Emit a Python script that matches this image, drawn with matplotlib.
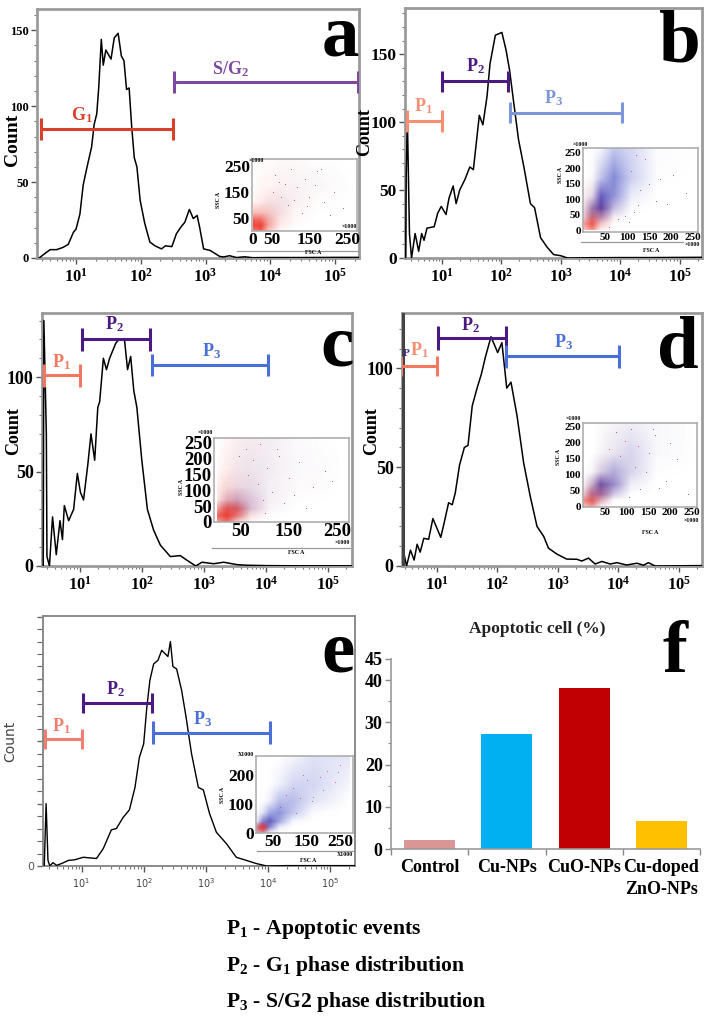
import matplotlib
matplotlib.use('Agg')
import matplotlib.pyplot as plt
from matplotlib.colors import LinearSegmentedColormap, PowerNorm
from matplotlib.ticker import FixedLocator, NullFormatter
import numpy as np

W, H = 713, 1019
SERIF = ['Liberation Serif', 'DejaVu Serif']
plt.rcParams['font.family'] = SERIF
plt.rcParams['mathtext.fontset'] = 'custom'
plt.rcParams['mathtext.rm'] = 'Liberation Serif:bold'
plt.rcParams['mathtext.bf'] = 'Liberation Serif:bold'
plt.rcParams['mathtext.default'] = 'bf'

# histogram traces: log10(FSC) and count
a_log = [.43, .52, .60, .70, .80, .88, .96, 1.0, 1.06, 1.11, 1.17, 1.24, 1.28, 1.32, 1.35, 1.39, 1.42, 1.46, 1.54, 1.59,
         1.65, 1.70, 1.74, 1.78, 1.82, 1.86, 1.90, 1.94, 1.99, 2.06, 2.14, 2.22, 2.32, 2.38, 2.48, 2.55, 2.63, 2.68,
         2.75, 2.81, 2.87, 2.91, 2.97, 3.07, 3.22, 3.28, 3.37, 3.48, 3.6, 3.73, 4.0, 4.5, 5.0, 5.37]
a_count = [0, 3, 5.5, 5.5, 7, 9, 17, 19, 29, 48, 60, 73, 88, 95, 112, 144, 127, 137, 131, 145,
           148, 133, 130, 111, 112, 86, 66, 60, 38, 23, 10.5, 8, 6, 8, 7.5, 16, 21, 23.5,
           32, 26, 28, 20, 6, 5, 1, .7, 1.5, .3, .8, .2, .3, .3, .4, .4]
b_log = [.39, .40, .42, .455, .49, .55, .61, .66, .70, .75, .87, .93, .99, 1.07, 1.12, 1.19, 1.24, 1.30, 1.39, 1.47,
         1.53, 1.63, 1.69, 1.76, 1.81, 1.90, 2.01, 2.08, 2.14, 2.21, 2.29, 2.38, 2.49, 2.56, 2.66, 2.77, 2.88, 3.0,
         3.11, 3.5, 4.0, 4.5, 5.37]
b_count = [0, 60, 103, 18, 0, 18, 5, 18, 13, 22, 23, 33, 38, 32, 44, 53, 40, 50, 58, 67,
           65, 105, 98, 119, 143, 164, 166, 153, 138, 114, 87, 67, 40, 37, 15, 8, 2.5, 1.7,
           0, .2, .3, .3, .5]
c_log = [.41, .42, .46, .47, .51, .56, .62, .68, .72, .75, .82, .90, .96, 1.01, 1.06, 1.13, 1.18, 1.24, 1.29, 1.32,
         1.38, 1.43, 1.48, 1.58, 1.63, 1.72, 1.77, 1.82, 1.87, 1.92, 2.0, 2.09, 2.19, 2.30, 2.46, 2.62, 2.73, 2.87,
         2.97, 3.16, 3.32, 3.54, 3.7, 4.0, 4.5, 5.39]
c_count = [0, 130, 70, 5, 0, 26, 6, 24, 14, 32, 24, 30, 49, 39, 35, 54, 70, 56, 84, 87,
           110, 104, 110, 118, 120, 120, 104, 111, 93, 84, 56, 30, 19, 11, 5, 5.5, 3, 0,
           2, 1.2, 2, .7, .4, .2, .1, .1]
d_log = [.45, .505, .57, .63, .68, .73, .79, .87, .94, 1.07, 1.12, 1.2, 1.26, 1.31, 1.38, 1.46, 1.52, 1.59, 1.67, 1.74,
         1.81, 1.90, 2.01, 2.08, 2.16, 2.23, 2.33, 2.44, 2.55, 2.66, 2.77, 2.85, 2.99, 3.15, 3.32, 3.40, 3.51, 3.62,
         3.73, 3.87, 3.98, 4.14, 4.31, 4.42, 4.5, 4.61, 5.385]
d_count = [8, 0, 8, 3, 11, 7, 14, 13.5, 24, 14.5, 21, 32, 31, 37, 51, 60, 61, 81, 90, 97,
           106, 116, 108, 113, 90, 93, 76, 52, 35, 20, 15, 9, 6, 3.5, 3.4, 2.5, 4, 1,
           2.3, 1, 1.7, .5, 1.4, .4, 1.7, 0, .2]
e_log = [.40, .43, .46, .49, .54, .6, .68, .79, .89, 1.03, 1.24, 1.35, 1.48, 1.56, 1.67, 1.77, 1.86, 1.93, 2.0, 2.05,
         2.10, 2.16, 2.23, 2.29, 2.35, 2.39, 2.43, 2.47, 2.53, 2.61, 2.68, 2.77, 2.88, 2.96, 3.06, 3.17, 3.33, 3.49,
         3.65, 3.81, 3.98, 4.3, 5.40]
e_count = [0, 50, 4.5, 0, 2.7, .5, 2, 4.5, 5, 7, 6, 14, 29, 30, 39, 45, 63, 87, 98, 127,
           149, 162, 165, 173, 170, 168, 180, 160, 158, 141, 120, 90, 63, 61, 42, 27, 18, 7,
           4.5, 2, 0, .3, .3]

# gates: (log start, log end, count, half cap height in counts)
a_gates = [(.46, 2.5, 85, 7), (2.52, 5.35, 116, 7)]
b_gates = [(.41, 1.0, 101, 8), (1.01, 2.12, 130, 8), (2.15, 4.03, 107, 8)]
c_gates = [(.42, 1.01, 101, 6), (1.03, 2.13, 120, 6), (2.16, 4.04, 106.5, 6)]
d_gates = [(.42, 1.01, 101, 5), (1.03, 2.14, 115.5, 6), (2.15, 4.02, 106, 6)]
e_gates = [(.41, 1.01, 101.6, 8), (1.02, 2.13, 131, 8), (2.15, 4.03, 107, 9)]

# inset density read by eye on a coarse grid (rows go up in SSC, columns along FSC)
grid_nodes = [0, 20, 40, 70, 110, 170, 280]
a_red = [[.7, .85, .3, .05, 0, 0, 0], [.95, 1, .5, .12, .02, 0, 0], [.85, .8, .45, .15, .04, 0, 0],
         [.35, .35, .3, .15, .05, .01, 0], [.06, .12, .15, .12, .07, .02, 0], [.01, .05, .06, .07, .05, .03, 0],
         [0, .01, .02, .03, .03, .01, 0]]
a_blue = [[0, 0, 0, 0, 0, 0, 0], [0, .05, 0, 0, 0, 0, 0], [0, .05, .05, 0, 0, 0, 0], [0, .02, .05, .05, 0, 0, 0],
          [0, 0, .03, .05, .03, 0, 0], [0, 0, 0, .02, .03, .02, 0], [0, 0, 0, 0, 0, 0, 0]]
b_red = [[.3, .6, .1, 0, 0, 0, 0], [.5, .9, .3, .02, 0, 0, 0], [.2, .6, .35, .05, 0, 0, 0],
         [.15, .25, .25, .08, 0, 0, 0], [.08, .1, .08, .03, 0, 0, 0], [0, .02, .02, 0, 0, 0, 0], [0, 0, 0, 0, 0, 0, 0]]
b_blue = [[0, 0, 0, 0, 0, 0, 0], [0, .1, .05, 0, 0, 0, 0], [.05, .55, .45, .05, 0, 0, 0],
          [.02, .6, .95, .3, .02, 0, 0], [0, .15, .8, .55, .1, 0, 0], [0, .02, .3, .6, .25, .01, 0],
          [0, 0, .02, .25, .2, .02, 0]]
c_red = [[.5, .75, .3, .03, 0, 0, 0], [.8, 1, .7, .15, .02, 0, 0], [.5, .85, .75, .2, .03, 0, 0],
         [.15, .35, .3, .15, .04, .01, 0], [.1, .2, .15, .1, .04, .02, 0], [.03, .1, .1, .08, .05, .02, 0],
         [0, .04, .06, .06, .05, .01, 0]]
c_blue = [[0, .05, 0, 0, 0, 0, 0], [.05, .3, .2, .03, 0, 0, 0], [.05, .4, .5, .2, .03, 0, 0],
          [0, .15, .3, .2, .05, 0, 0], [0, .03, .1, .12, .05, .01, 0], [0, 0, .05, .08, .06, .02, 0],
          [0, 0, .02, .05, .05, .01, 0]]
d_red = [[.3, .5, .05, 0, 0, 0, 0], [.6, .8, .35, .03, 0, 0, 0], [.25, .5, .4, .08, 0, 0, 0],
         [.05, .2, .25, .12, .02, 0, 0], [0, .03, .1, .08, .04, 0, 0], [0, 0, .03, .05, .04, .01, 0],
         [0, 0, .01, .02, .02, .01, 0]]
d_blue = [[0, 0, 0, 0, 0, 0, 0], [.02, .35, .2, 0, 0, 0, 0], [0, .6, .7, .25, .01, 0, 0],
          [0, .3, .85, .55, .08, 0, 0], [0, .03, .2, .4, .2, .01, 0], [0, 0, .04, .1, .2, .03, 0],
          [0, 0, 0, .03, .05, .03, 0]]
e_red = [[.4, .5, .02, 0, 0, 0, 0], [.5, 1, .1, 0, 0, 0, 0], [0, .1, .05, 0, 0, 0, 0], [0, 0, 0, 0, 0, 0, 0],
         [0, 0, 0, 0, 0, 0, 0], [0, 0, 0, 0, 0, 0, 0], [0, 0, 0, 0, 0, 0, 0]]
e_blue = [[.1, .2, .05, 0, 0, 0, 0], [.3, .95, .6, .1, 0, 0, 0], [.05, .6, .8, .45, .05, 0, 0],
          [0, .15, .45, .55, .3, .02, 0], [0, .01, .1, .35, .35, .15, 0], [0, 0, .01, .08, .22, .22, .05],
          [0, 0, 0, 0, .03, .15, .15]]

# a few stray events per inset (FSC, SSC)
a_x = [60, 85, 102, 118, 140, 150, 170, 190, 215, 240, 75, 95, 130, 165, 205, 55, 110, 145, 180, 70]
a_y = [215, 180, 240, 170, 200, 130, 230, 110, 150, 90, 130, 100, 70, 175, 60, 150, 120, 95, 240, 190]
b_x = [110, 130, 150, 175, 205, 235, 125, 165, 95, 115, 140, 190, 80, 105, 120, 60]
b_y = [190, 130, 150, 165, 180, 120, 80, 95, 45, 60, 230, 85, 35, 25, 245, 10]
c_x = [60, 75, 90, 105, 130, 150, 170, 200, 225, 85, 115, 140, 185, 45, 65, 100, 125, 160, 240, 95]
c_y = [230, 195, 245, 170, 210, 140, 190, 110, 160, 120, 95, 60, 45, 210, 150, 30, 230, 85, 130, 70]
d_x = [75, 95, 110, 125, 150, 165, 190, 215, 240, 60, 85, 130, 145, 175, 105, 200, 120, 160]
d_y = [235, 205, 245, 190, 170, 225, 80, 150, 40, 180, 160, 55, 110, 60, 30, 200, 125, 245]
e_x = [90, 110, 130, 150, 170, 190, 210, 235, 250, 70, 120, 165, 200, 245, 140]
e_y = [130, 155, 120, 185, 125, 195, 215, 175, 235, 90, 70, 110, 150, 210, 200]

# bar panel
bar_names = ['Control', 'Cu-NPs', 'CuO-NPs', 'Cu-doped\nZnO-NPs']
bar_values = [2.05, 27.3, 38.2, 6.7]
bar_colors = ['#d99694', '#00b0f0', '#c00000', '#ffc000']


def px_axes(fig, left, top, right, bottom):
    return fig.add_axes([left / W, 1 - bottom / H, (right - left) / W, (bottom - top) / H])


def px_text(fig, x, y, s, **kw):
    return fig.text(x / W, 1 - y / H, s, **kw)


def histogram(fig, box, log_x, counts, gates, gate_colors, y_top, y_ticks, y_size, xlim, lw=1.1,
              frame='#9a9a9a', frame_lw=2.0):
    ax = px_axes(fig, *box)
    ax.set_xscale('log')
    ax.plot(10 ** np.array(log_x), counts, color='black', lw=lw, zorder=3)
    ax.set_xlim(10 ** xlim[0], 10 ** xlim[1])
    ax.set_ylim(0, y_top)
    ax.set_xticks([10 ** n for n in range(1, 6)])
    ax.set_xticklabels(['$10^{%d}$' % n for n in range(1, 6)], fontsize=12)
    ax.set_yticks(y_ticks)
    ax.set_yticklabels([str(t) for t in y_ticks], fontsize=y_size, fontweight='bold')
    ax.yaxis.set_minor_locator(FixedLocator(np.arange(0, y_top, 10)))
    ax.tick_params(which='major', length=4, width=1, color='#555555', pad=2)
    ax.tick_params(which='minor', length=2.5, width=.8, color='#777777')
    ax.tick_params(axis='x', pad=3)
    ax.xaxis.set_minor_formatter(NullFormatter())
    for sp in ax.spines.values():
        sp.set_color(frame)
        sp.set_linewidth(frame_lw)
    for (g, col) in zip(gates, gate_colors):
        start, end, level, cap = g
        ax.plot([10 ** start, 10 ** end], [level, level], color=col, lw=2.2, zorder=4, solid_capstyle='butt')
        for edge in (start, end):
            ax.plot([10 ** edge, 10 ** edge], [level - cap, level + cap], color=col, lw=2.2, zorder=4,
                    solid_capstyle='butt')
    return ax


def gate_label(ax, log_x, y, name, sub, color, size=13):
    ax.text(10 ** log_x, y, '%s$_{%s}$' % (name, sub), color=color, fontsize=size, fontweight='bold',
            ha='center', va='center', zorder=5)


def fine_density(grid, fine):
    # spread the coarse grid out so it can be shown as a soft wash
    nodes = np.array(grid_nodes, dtype=float)
    grid = np.array(grid, dtype=float)
    rows = np.array([np.interp(fine, nodes, r) for r in grid])
    return np.array([np.interp(fine, nodes, rows[:, j]) for j in range(len(fine))]).T


def inset(fig, box, x_ticks, x_px, y_ticks, y_px, red, blue, xs, ys, size, notes, dot=.5):
    # x_px and y_px give two calibration pairs: (value, pixel)
    left, top, right, bottom = box
    xscale = (x_px[1][0] - x_px[0][0]) / (x_px[1][1] - x_px[0][1])
    yscale = (y_px[1][0] - y_px[0][0]) / (y_px[0][1] - y_px[1][1])
    xlim = (x_px[0][0] + (left - x_px[0][1]) * xscale, x_px[0][0] + (right - x_px[0][1]) * xscale)
    ylim = (y_px[0][0] - (bottom - y_px[0][1]) * yscale, y_px[0][0] + (y_px[0][1] - top) * yscale)
    ax = px_axes(fig, *box)
    ax.patch.set_alpha(0)
    fine = np.linspace(0, 280, 141)
    blue_map = LinearSegmentedColormap.from_list('b', [(.22, .28, .78, 0), (.18, .2, .72, 1)])
    red_map = LinearSegmentedColormap.from_list('r', [(.94, .3, .25, 0), (.94, .25, .2, 1)])
    norm = PowerNorm(1.0, vmin=0, vmax=1)
    ax.imshow(fine_density(blue, fine), cmap=blue_map, norm=norm, extent=(0, 280, 0, 280), origin='lower',
              aspect='auto', interpolation='bilinear', zorder=1)
    ax.imshow(fine_density(red, fine), cmap=red_map, norm=norm, extent=(0, 280, 0, 280), origin='lower',
              aspect='auto', interpolation='bilinear', zorder=2)
    ax.scatter(xs, ys, s=dot, color='#a03a70', alpha=.7, linewidths=0, zorder=3)
    ax.set_xlim(*xlim)
    ax.set_ylim(*ylim)
    ax.set_xticks(x_ticks)
    ax.set_yticks(y_ticks)
    ax.set_xticklabels([str(t) for t in x_ticks], fontsize=size, fontweight='bold')
    ax.set_yticklabels([str(t) for t in y_ticks], fontsize=size, fontweight='bold')
    ax.tick_params(length=0, pad=1.5)
    ax.tick_params(axis='x', pad=1)
    for sp in ax.spines.values():
        sp.set_color('#a8a8a8')
        sp.set_linewidth(1.1)
    for (x, y, s, rot) in notes:
        px_text(fig, x, y, s, fontsize=4.2, fontweight='bold', rotation=rot, ha='center', va='center')
    return ax


fig = plt.figure(figsize=(W / 100, H / 100), dpi=100, facecolor='white')

p_colors = ['#f58f73', '#4a1a80', '#7b97d9']
p_colors_deep = ['#f4785f', '#4a1a80', '#4a6fd8']

# panel a
ax = histogram(fig, (37, 9, 359, 258), a_log, a_count, a_gates, ['#d9402b', '#7b4aa0'], 164, [0, 50, 100, 150], 9,
               (.397, 5.37))
gate_label(ax, 1.09, 94, 'G', '1', '#d9402b')
gate_label(ax, 3.38, 124.6, 'S/G', '2', '#7b4aa0')
px_text(fig, 12, 140, 'Count', fontsize=14, fontweight='bold', rotation=90, ha='center', va='center')
inset(fig, (252, 159, 357, 231), [0, 50, 150, 250], ((0, 252.5), (250, 347)), [50, 150, 250], ((50, 218), (250, 166)),
      a_red, a_blue, a_x, a_y, 12.5, [(256, 160, '×1000', 0), (349, 227, '×1000', 0), (218, 200, 'SSC A', 90),
                                     (313, 253, 'FSC A', 0)])
fig.add_artist(plt.Line2D([237 / W, 359 / W], [1 - 251 / H] * 2, color='#999999', lw=.9))

# panel b
ax = histogram(fig, (405, 8, 702, 258), b_log, b_count, b_gates, p_colors, 184, [0, 50, 100, 150], 12.5, (.38, 5.376))
gate_label(ax, .69, 112, 'P', '1', p_colors[0])
gate_label(ax, 1.56, 141, 'P', '2', p_colors[1])
gate_label(ax, 2.88, 117.6, 'P', '3', p_colors[2])
px_text(fig, 365, 132, 'Count', fontsize=13, fontweight='bold', rotation=90, ha='center', va='center')
inset(fig, (583, 148, 698, 232), [50, 100, 150, 200, 250], ((50, 605), (250, 693)), [0, 50, 100, 150, 200, 250],
      ((0, 230), (250, 153)), b_red, b_blue, b_x, b_y, 8,
      [(580, 144, '×1000', 0), (692, 244, '×1000', 0), (561, 175, 'SSC A', 90), (651, 250, 'FSC A', 0)])
fig.add_artist(plt.Line2D([581 / W, 683 / W], [1 - 242 / H] * 2, color='#999999', lw=.9))

# panel c
ax = histogram(fig, (42, 313, 352, 566), c_log, c_count, c_gates, p_colors_deep, 134, [0, 50, 100], 13, (.39, 5.39))
gate_label(ax, .70, 108, 'P', '1', p_colors_deep[0])
gate_label(ax, 1.56, 128, 'P', '2', p_colors_deep[1])
gate_label(ax, 3.13, 113.6, 'P', '3', p_colors_deep[2])
px_text(fig, 14, 431, 'Count', fontsize=13, fontweight='bold', rotation=90, ha='center', va='center')
inset(fig, (214, 438, 349, 522), [50, 150, 250], ((50, 241), (250, 337)), [0, 50, 100, 150, 200, 250],
      ((0, 524), (250, 443)), c_red, c_blue, c_x, c_y, 13.5,
      [(205, 433, '×1000', 0), (342, 543, '×1000', 0), (181, 487, 'SSC A', 90), (296, 552, 'FSC A', 0)])
fig.add_artist(plt.Line2D([212 / W, 350 / W], [1 - 548 / H] * 2, color='#999999', lw=.9))

# panel d
ax = histogram(fig, (402, 313, 702, 566), d_log, d_count, d_gates, p_colors_deep, 128, [0, 50, 100], 13, (.43, 5.385))
ax.axvline(10 ** .445, color='#444444', lw=2.2, zorder=3)
gate_label(ax, .71, 109, 'P', '1', p_colors[0])
gate_label(ax, 1.56, 122, 'P', '2', p_colors_deep[1])
gate_label(ax, 3.10, 113, 'P', '3', p_colors_deep[2])
ax.text(10 ** .44, 107.5, 'P', color='#3a2a80', fontsize=8, fontweight='bold', ha='left', va='center', zorder=5)
px_text(fig, 372, 431, 'Count', fontsize=13, fontweight='bold', rotation=90, ha='center', va='center')
inset(fig, (583, 423, 697, 507), [50, 100, 150, 200, 250], ((50, 605), (250, 692)), [0, 50, 100, 150, 200, 250],
      ((0, 508), (250, 427)), d_red, d_blue, d_x, d_y, 8,
      [(573, 419, '×1000', 0), (691, 521, '×1000', 0), (558, 457, 'SSC A', 90), (650, 533, 'FSC A', 0)])

# panel e
ax = histogram(fig, (43, 616, 355, 866), e_log, e_count, e_gates, ['#f07f70', '#4a1a80', '#4a6fd8'], 200.5, [0, 50, 100, 150, 200],
               8, (.38, 5.40), lw=1.0, frame='#8a8a8a', frame_lw=1.4)
ax.set_yticklabels(['0', '', '', '', ''], fontsize=8, family='DejaVu Sans', fontweight='normal', color='#555555')
ax.set_xticklabels(['$\\mathregular{10^{%d}}$' % n for n in range(1, 6)], fontsize=7, family='DejaVu Sans', color='#444444')
ax.tick_params(axis='y', which='both', length=4, direction='out', color='#666666')
gate_label(ax, .67, 112, 'P', '1', '#f07f70')
gate_label(ax, 1.54, 141.7, 'P', '2', p_colors_deep[1])
gate_label(ax, 2.94, 118, 'P', '3', p_colors_deep[2])
px_text(fig, 10, 741, 'Count', fontsize=10, family='DejaVu Sans', color='#444444', rotation=90, ha='center', va='center')
inset(fig, (256, 756, 353, 833), [50, 150, 250], ((50, 273), (250, 340)), [0, 100, 200], ((0, 836), (200, 776)),
      e_red, e_blue, e_x, e_y, 12.5, [(246, 754, 'X1000', 0), (345, 855, 'X1000', 0), (222, 795, 'SSC A', 90),
                                      (308, 860, 'FSC A', 0)], dot=.4)
fig.add_artist(plt.Line2D([257 / W, 353 / W], [1 - 851 / H] * 2, color='#999999', lw=.9))

# panel f
ax = px_axes(fig, 391, 659, 700, 849)
ax.bar(range(4), bar_values, width=.66, color=bar_colors)
ax.set_xlim(-.5, 3.5)
ax.set_ylim(0, 45)
ax.set_yticks([0, 10, 20, 30, 40, 45])
ax.set_yticklabels(['0', '10', '20', '30', '40', '45'], fontsize=13, fontweight='bold')
ax.yaxis.set_minor_locator(FixedLocator([5, 15, 25, 35]))
ax.set_xticks([-.5, .5, 1.5, 2.5, 3.5])
ax.set_xticklabels([])
ax.tick_params(axis='both', which='major', length=4, width=1, color='#888888', pad=2)
ax.tick_params(axis='y', which='minor', length=2, width=.8, color='#888888')
for side in ('top', 'right'):
    ax.spines[side].set_visible(False)
for side in ('left', 'bottom'):
    ax.spines[side].set_color('#999999')
    ax.spines[side].set_linewidth(1.2)
for i, name in enumerate(bar_names):
    ax.annotate(name, (i, 0), xytext=(0, -7), textcoords='offset points', ha='center', va='top', fontsize=13,
                fontweight='bold', linespacing=1.4)
px_text(fig, 537, 629, 'Apoptotic cell (%)', family=SERIF, fontsize=12.5,
        fontweight='bold', ha='center', va='center', color='#222222')

# panel letters
for (x, y, s) in [(340, 55, 'a'), (680, 61, 'b'), (337, 365, 'c'), (678, 368, 'd'), (338, 671, 'e'), (675, 672, 'f')]:
    px_text(fig, x, y, s, fontsize=54, fontweight='bold', ha='center', va='baseline')

# key
key_lines = ['P$_{1}$ - Apoptotic events', 'P$_{2}$ - G$_{1}$ phase distribution', 'P$_{3}$ - S/G2 phase distribution']
for y, line in zip([934, 971, 1007], key_lines):
    px_text(fig, 226, y, line, fontsize=15.6, fontweight='bold', ha='left', va='baseline')

fig.savefig('out.png', dpi=100)
